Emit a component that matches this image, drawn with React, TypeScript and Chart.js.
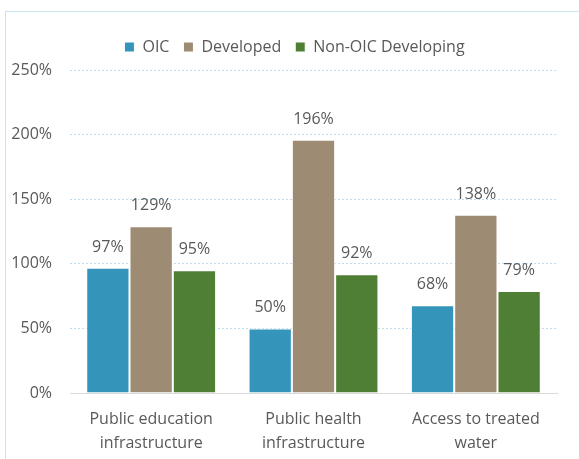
import React, { useEffect, useRef } from "react";
import { Chart, registerables } from "chart.js";

Chart.register(...registerables);

const categories: string[][] = [
  ["Public education", "infrastructure"],
  ["Public health", "infrastructure"],
  ["Access to treated", "water"],
];
const seriesNames = ["OIC", "Developed", "Non-OIC Developing"];
const oicValues = [97, 50, 68];
const developedValues = [129, 196, 138];
const nonOicValues = [95, 92, 79];
const yMax = 250;
const yStep = 50;

const colors = ["#3494BA", "#9E8B74", "#4F7E35"];
const textColor = "#595959";
const FONT = "'Open Sans', sans-serif";

const valueLabels = {
  id: "valueLabels",
  afterDatasetsDraw(chart: any) {
    const ctx = chart.ctx;
    ctx.save();
    ctx.font = `16px ${FONT}`;
    ctx.fillStyle = textColor;
    ctx.textAlign = "center";
    ctx.textBaseline = "alphabetic";
    chart.data.datasets.forEach((ds: any, i: number) => {
      const meta = chart.getDatasetMeta(i);
      meta.data.forEach((bar: any, j: number) => {
        ctx.fillText(`${ds.data[j]}%`, bar.x, bar.y - 16);
      });
    });
    ctx.restore();
  },
};

const legendBox = {
  id: "legendBox",
  beforeLayout(chart: any) {
    const lg = chart.legend;
    if (lg && !lg.__patched) {
      const fit = lg.fit.bind(lg);
      lg.fit = function () {
        fit();
        this.height = 45;
      };
      lg.__patched = true;
    }
  },
  afterLayout(chart: any) {
    const lg = chart.legend;
    if (lg) {
      lg.left = 32;
      lg.right = chart.chartArea.right;
    }
  },
};

export default function App() {
  const ref = useRef<HTMLCanvasElement>(null);
  useEffect(() => {
    if (!ref.current) return;
    const chart = new Chart(ref.current, {
      type: "bar",
      data: {
        labels: categories,
        datasets: [
          { label: seriesNames[0], data: oicValues, backgroundColor: colors[0] },
          { label: seriesNames[1], data: developedValues, backgroundColor: colors[1] },
          { label: seriesNames[2], data: nonOicValues, backgroundColor: colors[2] },
        ].map((d) => ({
          ...d,
          borderColor: "#ffffff",
          borderWidth: 1,
          barPercentage: 1,
          categoryPercentage: 0.8,
        })),
      },
      options: {
        responsive: false,
        animation: false,
        layout: { padding: { left: 5, right: 22, top: 25, bottom: 0 } },
        plugins: {
          legend: {
            position: "top",
            labels: {
              boxWidth: 10,
              boxHeight: 10,
              padding: 14,
              color: textColor,
              font: { family: FONT, size: 16 },
            },
          },
          tooltip: { enabled: false },
        },
        scales: {
          x: {
            grid: { display: true, drawOnChartArea: false, drawTicks: false },
            border: { display: true, color: "#D9D9D9", width: 1 },
            ticks: {
              color: textColor,
              padding: 15,
              font: { family: FONT, size: 16, lineHeight: 1.47 },
              maxRotation: 0,
            },
            afterFit: (s: any) => {
              s.height = 66;
            },
          },
          y: {
            min: 0,
            max: yMax,
            grid: {
              drawTicks: false,
              color: (c: any) => (c.tick && c.tick.value === 0 ? "rgba(0,0,0,0)" : "#BCDDEC"),
              lineWidth: 1,
            },
            border: { display: false, dash: [2, 2] },
            ticks: {
              stepSize: yStep,
              color: textColor,
              padding: 18,
              font: { family: FONT, size: 16 },
              callback: (v: any) => `${v}%`,
            },
            afterFit: (s: any) => {
              s.width = 65;
            },
          },
        },
      },
      plugins: [valueLabels, legendBox],
    });
    return () => chart.destroy();
  }, []);

  return (
    <div
      style={{
        position: "fixed",
        left: 0,
        top: 0,
        width: 579,
        height: 459,
        overflow: "hidden",
        background: "#ffffff",
      }}
    >
      <div
        style={{
          position: "absolute",
          left: 5,
          top: 11,
          width: 700,
          height: 600,
          border: "1px solid #C9E3F0",
          boxSizing: "border-box",
        }}
      />
      <canvas
        ref={ref}
        width={579}
        height={459}
        style={{ position: "absolute", left: 0, top: 0, width: 579, height: 459 }}
      />
    </div>
  );
}
